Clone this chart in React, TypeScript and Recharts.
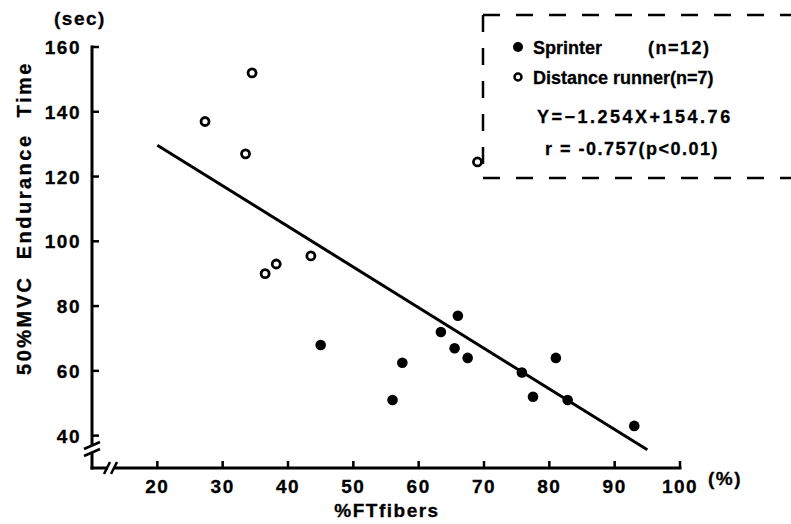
import { ScatterChart, Scatter, XAxis, YAxis } from 'recharts';

// %FT fibers vs. 50%MVC endurance time
const sprinterFT = [45, 56, 57.5, 63.4, 65.5, 66, 67.5, 75.8, 77.5, 81, 82.8, 93];
const sprinterTime = [68, 51, 62.5, 72, 67, 77, 64, 59.5, 52, 64, 51, 43];
const runnerFT = [27.3, 34.5, 33.5, 36.5, 38.2, 43.5, 69];
const runnerTime = [137, 152, 127, 90, 93, 95.5, 124.5];

const xTicks = [20, 30, 40, 50, 60, 70, 80, 90, 100];
const yTicks = [40, 60, 80, 100, 120, 140, 160];

// regression Y = -1.254X + 154.76
const fitSlope = -1.254;
const fitIntercept = 154.76;
const fitRange = [20, 95];

const sprinters = sprinterFT.map((x, i) => ({ x, y: sprinterTime[i] }));
const runners = runnerFT.map((x, i) => ({ x, y: runnerTime[i] }));
const fitLine = fitRange.map((x) => ({ x, y: fitSlope * x + fitIntercept }));

const FONT = '"Liberation Sans", Arial, sans-serif';
const textStyle = {
    fontFamily: FONT,
    fontWeight: 700,
    fontSize: 19,
    letterSpacing: 1.5,
    fill: '#000',
    stroke: '#000',
    strokeWidth: 0.3,
};
const legendStyle = { ...textStyle, fontSize: 18, letterSpacing: 0 };

const XTick = ({ x, y, payload }: any) => (
    <g>
        <line x1={x} y1={y} x2={x} y2={y - 7} stroke="#000" strokeWidth={2.5} />
        <text x={x} y={y + 25} textAnchor="middle" style={textStyle}>{payload.value}</text>
    </g>
);

const YTick = ({ x, y, payload }: any) => (
    <g>
        <line x1={x} y1={y} x2={x + 7} y2={y} stroke="#000" strokeWidth={2.5} />
        <text x={x - 11} y={y + 7} textAnchor="end" style={textStyle}>{payload.value}</text>
    </g>
);

const FilledDot = ({ cx, cy }: any) => <circle cx={cx} cy={cy} r={5.3} fill="#000" />;
const OpenDot = ({ cx, cy }: any) => (
    <circle cx={cx} cy={cy} r={4} fill="#fff" stroke="#000" strokeWidth={2.8} />
);
const NoDot = () => <g />;

const Overlay = () => (
    <svg width={791} height={524} style={{ position: 'absolute', left: 0, top: 0, pointerEvents: 'none' }}>
        {/* axis units and titles */}
        <text x={54} y={25} style={textStyle}>(sec)</text>
        <text x={708} y={485} style={textStyle}>(%)</text>
        <text x={387} y={517} textAnchor="middle" style={textStyle}>%FTfibers</text>
        <text
            transform="translate(31 218) rotate(-90)"
            textAnchor="middle"
            style={{ ...textStyle, fontSize: 20, letterSpacing: 2.5, whiteSpace: 'pre' }}
        >
            {'50%MVC  Endurance  Time'}
        </text>

        {/* axis breaks */}
        <rect x={87} y={446} width={10} height={6} fill="#fff" />
        <line x1={84} y1={449} x2={100} y2={442} stroke="#000" strokeWidth={2.5} />
        <line x1={84} y1={456} x2={100} y2={449} stroke="#000" strokeWidth={2.5} />
        <rect x={108} y={464} width={6} height={8} fill="#fff" />
        <line x1={104} y1={474} x2={110} y2={462} stroke="#000" strokeWidth={2.5} />
        <line x1={111} y1={474} x2={117} y2={462} stroke="#000" strokeWidth={2.5} />

        {/* legend box */}
        <g stroke="#000" strokeWidth={2.5} strokeDasharray="17 16" fill="none">
            <line x1={483} y1={15} x2={800} y2={15} />
            <line x1={483} y1={15} x2={483} y2={178} />
            <line x1={483} y1={178} x2={800} y2={178} />
        </g>
        <circle cx={518} cy={47} r={5} fill="#000" />
        <text x={533} y={54} style={legendStyle}>Sprinter</text>
        <text x={648} y={54} style={{ ...legendStyle, letterSpacing: 1.5 }}>(n=12)</text>
        <circle cx={518} cy={77} r={3.5} fill="#fff" stroke="#000" strokeWidth={2.5} />
        <text x={533} y={84} style={legendStyle}>Distance runner(n=7)</text>
        <text x={537} y={123} style={{ ...legendStyle, letterSpacing: 2.5 }}>Y=−1.254X+154.76</text>
        <text x={545} y={155} style={{ ...legendStyle, letterSpacing: 1.5 }}>r = -0.757(p&lt;0.01)</text>
    </svg>
);

export default function App() {
    return (
        <div style={{ position: 'absolute', left: 0, top: 0, width: 791, height: 524, background: '#fff' }}>
            <ScatterChart width={791} height={524} margin={{ top: 47, right: 111, bottom: 16, left: 42 }}>
                <XAxis
                    type="number"
                    dataKey="x"
                    domain={[10, 100]}
                    ticks={xTicks}
                    height={40}
                    tickSize={0}
                    tickMargin={0}
                    tickLine={false}
                    axisLine={{ stroke: '#000', strokeWidth: 3, strokeLinecap: 'square' }}
                    tick={<XTick />}
                    allowDataOverflow
                />
                <YAxis
                    type="number"
                    dataKey="y"
                    domain={[30, 160]}
                    ticks={yTicks}
                    width={50}
                    tickSize={0}
                    tickMargin={0}
                    tickLine={false}
                    axisLine={{ stroke: '#000', strokeWidth: 3, strokeLinecap: 'square' }}
                    tick={<YTick />}
                    allowDataOverflow
                />
                <Scatter
                    data={fitLine}
                    line={{ stroke: '#000', strokeWidth: 3 }}
                    shape={<NoDot />}
                    isAnimationActive={false}
                />
                <Scatter data={runners} shape={<OpenDot />} isAnimationActive={false} />
                <Scatter data={sprinters} shape={<FilledDot />} isAnimationActive={false} />
            </ScatterChart>
            <Overlay />
        </div>
    );
}
